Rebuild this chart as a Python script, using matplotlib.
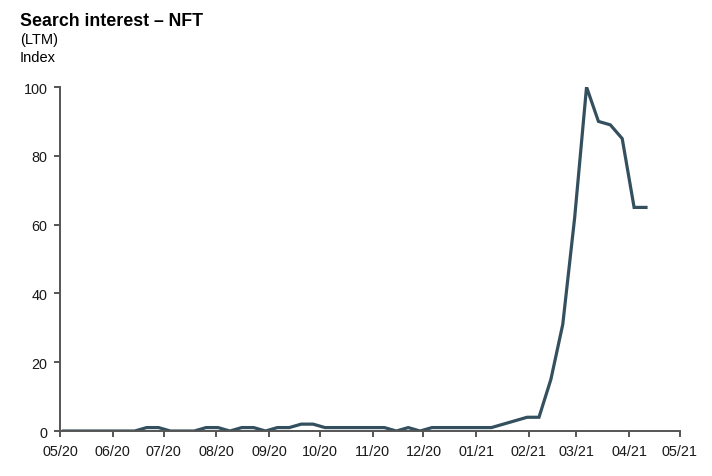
import matplotlib
matplotlib.use("Agg")
import matplotlib.pyplot as plt
import matplotlib.dates as mdates
import pandas as pd

plt.rcParams["font.family"] = ["Liberation Sans", "DejaVu Sans"]

# weekly Google search interest, index (peak = 100)
week_start = "2020-05-03"
interest = [
    0, 0, 0, 0, 0, 0, 0, 1, 1, 0,
    0, 0, 1, 1, 0, 1, 1, 0, 1, 1,
    2, 2, 1, 1, 1, 1, 1, 1, 0, 1,
    0, 1, 1, 1, 1, 1, 1, 2, 3, 4,
    4, 15, 31, 62, 100, 90, 89, 85, 65, 65,
]
weeks = pd.date_range(week_start, periods=len(interest), freq="7D")
month_ticks = pd.date_range("2020-05-01", "2021-05-01", freq="MS")

axis_col = "#555555"
line_col = "#34505f"

fig = plt.figure(figsize=(7.12, 4.77), dpi=100)
ax = fig.add_axes([0.0843, 0.0943, 0.8707, 0.7212])

ax.plot(weeks, interest, color=line_col, lw=2.3, solid_joinstyle="miter")

ax.set_xlim(month_ticks[0], month_ticks[-1])
ax.set_ylim(0, 100)
ax.set_xticks(month_ticks)
ax.xaxis.set_major_formatter(mdates.DateFormatter("%m/%y"))
ax.set_yticks([0, 20, 40, 60, 80, 100])

for side in ("top", "right"):
    ax.spines[side].set_visible(False)
for side in ("left", "bottom"):
    ax.spines[side].set_color(axis_col)
    ax.spines[side].set_linewidth(1.4)

ax.tick_params(axis="both", colors=axis_col, labelcolor="#1a1a1a",
               labelsize=10.4, width=1.4, length=4, direction="out")
ax.tick_params(axis="x", pad=5)
ax.tick_params(axis="y", pad=5)

fig.text(20 / 712, 1 - 26.5 / 477, "Search interest \u2013 NFT",
         fontsize=12.8, fontweight="bold", va="baseline", ha="left")
fig.text(20 / 712, 1 - 44 / 477, "(LTM)", fontsize=10.5,
         va="baseline", ha="left")
fig.text(20 / 712, 1 - 62.5 / 477, "Index", fontsize=10.5,
         va="baseline", ha="left")

fig.savefig("out.png", dpi=100)
